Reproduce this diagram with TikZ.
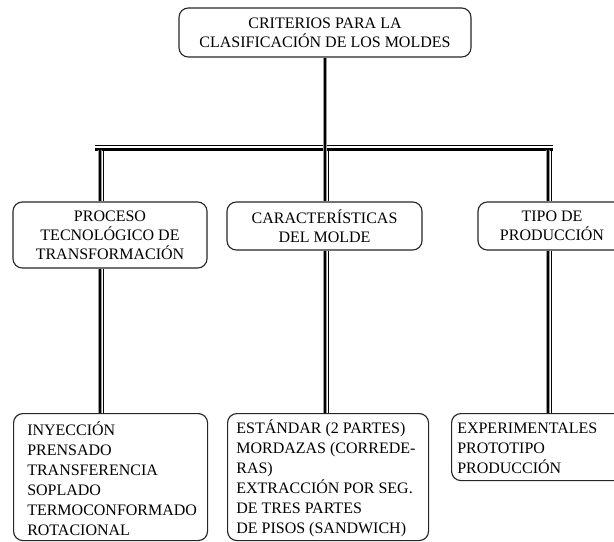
\documentclass[tikz,border=0pt]{standalone}
\usepackage{fontspec}
\setmainfont{Liberation Serif}
\begin{document}
\begin{tikzpicture}[x=0.75pt,y=-0.75pt,
  box/.style={draw=black!85, line width=0.85pt, rounded corners=7pt, fill=white,
    font=\fontsize{12}{14.2}\selectfont, align=center, inner sep=0pt},
  listtext/.style={font=\fontsize{12}{15}\selectfont, align=left, inner sep=0pt},
  haloln/.style={line width=3.4pt, black!40},
  thickln/.style={line width=1.9pt, black},
  thinln/.style={line width=0.6pt, black}]
\useasboundingbox (0,0) rectangle (614,542);
\clip (0,0) rectangle (614,542);

% boxes
\node[box, minimum width=292*0.75pt, minimum height=49*0.75pt] (top) at (325,32.5)
  {CRITERIOS PARA LA\\CLASIFICACIÓN DE LOS MOLDES};
\node[box, minimum width=194*0.75pt, minimum height=66*0.75pt] (p1) at (110,235)
  {PROCESO\\TECNOLÓGICO DE\\TRANSFORMACIÓN};
\node[box, minimum width=195*0.75pt, minimum height=48*0.75pt] (p2) at (324.5,226)
  {CARACTERÍSTICAS\\DEL MOLDE};
\node[box, minimum width=148*0.75pt, minimum height=48*0.75pt] (p3) at (552,226)
  {TIPO DE\\PRODUCCIÓN};

\node[box, anchor=north west, minimum width=194*0.75pt, minimum height=127*0.75pt] (b1) at (13,413) {};
\node[box, anchor=north west, minimum width=201*0.75pt, minimum height=127*0.75pt] (b2) at (227,413) {};
\node[box, anchor=north west, minimum width=190*0.75pt, minimum height=67*0.75pt] (b3) at (451,413) {};

\node[listtext, anchor=west] (b1t) at ([xshift=10.5pt,yshift=-1pt]b1.west)
  {INYECCIÓN\\PRENSADO\\TRANSFERENCIA\\SOPLADO\\TERMOCONFORMADO\\ROTACIONAL};
\node[listtext, anchor=west] (b2t) at ([xshift=6.8pt,yshift=-1pt]b2.west)
  {ESTÁNDAR (2 PARTES)\\MORDAZAS (CORREDE-\\RAS)\\EXTRACCIÓN POR SEG.\\DE TRES PARTES\\DE PISOS (SANDWICH)};
\node[listtext, anchor=west] (b3t) at ([xshift=4.5pt,yshift=-1pt]b3.west)
  {EXPERIMENTALES\\PROTOTIPO\\PRODUCCIÓN};

% junction coordinates
\coordinate (barL) at (95,149.5);
\coordinate (barR) at (553,149.5);
\coordinate (j1) at (100,149.5);
\coordinate (j2) at (325,149.5);
\coordinate (j3) at (548,149.5);

% horizontal bar
\draw[thickln] (barL) -- (barR);
\draw[thinln] ([yshift=3pt]barL) -- ([yshift=3pt]barR);

% vertical connectors
\draw[haloln] (top.south -| j2) -- (p2.north -| j2);
\draw[thickln] (top.south -| j2) -- (p2.north -| j2);
\draw[thinln] ([xshift=2.6pt]j2) -- ([xshift=2.6pt]p2.north -| j2);

\draw[haloln] (j1) -- (p1.north -| j1);
\draw[thickln] (j1) -- (p1.north -| j1);
\draw[thinln] ([xshift=2.6pt]j1) -- ([xshift=2.6pt]p1.north -| j1);

\draw[haloln] (j3) -- (p3.north -| j3);
\draw[thickln] (j3) -- (p3.north -| j3);
\draw[thinln] ([xshift=2.6pt]j3) -- ([xshift=2.6pt]p3.north -| j3);

\draw[haloln] (p1.south -| j1) -- (b1.north -| j1);
\draw[thickln] (p1.south -| j1) -- (b1.north -| j1);
\draw[thinln] ([xshift=2.6pt]p1.south -| j1) -- ([xshift=2.6pt]b1.north -| j1);

\draw[haloln] (p2.south -| j2) -- (b2.north -| j2);
\draw[thickln] (p2.south -| j2) -- (b2.north -| j2);
\draw[thinln] ([xshift=2.6pt]p2.south -| j2) -- ([xshift=2.6pt]b2.north -| j2);

\draw[haloln] (p3.south -| j3) -- (b3.north -| j3);
\draw[thickln] (p3.south -| j3) -- (b3.north -| j3);
\draw[thinln] ([xshift=2.6pt]p3.south -| j3) -- ([xshift=2.6pt]b3.north -| j3);
\end{tikzpicture}
\end{document}
